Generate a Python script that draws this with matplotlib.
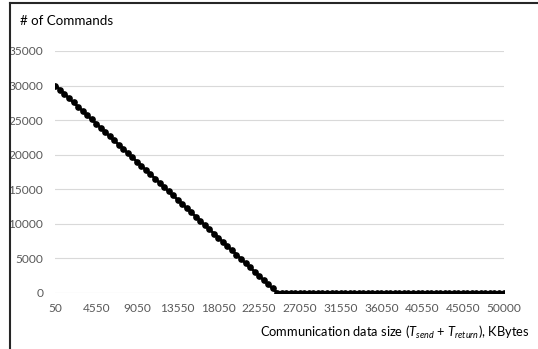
import numpy as np
import matplotlib.pyplot as plt
from matplotlib.lines import Line2D

plt.rcParams['font.family'] = ['Lato', 'DejaVu Sans']
plt.rcParams['mathtext.fontset'] = 'custom'
plt.rcParams['mathtext.rm'] = 'Lato'
plt.rcParams['mathtext.it'] = 'Lato:italic'

# data size categories, KBytes (step 500, last one 50000)
sizes = [50 + 500 * i for i in range(99)] + [50000]

# number of commands, falling part then flat at zero
commands_fall = [30000, 29388, 28776, 28163, 27551, 26939, 26327, 25714, 25102, 24490,
                 23878, 23265, 22653, 22041, 21429, 20816, 20204, 19592, 18980, 18367,
                 17755, 17143, 16531, 15918, 15306, 14694, 14082, 13469, 12857, 12245,
                 11633, 11020, 10408, 9796, 9184, 8571, 7959, 7347, 6735, 6122,
                 5510, 4898, 4286, 3673, 3061, 2449, 1837, 1224, 612, 0]
commands_flat = [0] * 50
commands = commands_fall + commands_flat

yticks = [0, 5000, 10000, 15000, 20000, 25000, 30000, 35000]

fig = plt.figure(figsize=(5.38, 3.49), dpi=100)
ax = fig.add_axes([0.1022, 0.1613, 0.8346, 0.6926])

pos = np.arange(len(sizes))
ax.plot(pos, commands, color='black', lw=2, marker='o', ms=3.8, zorder=3)

ax.set_xlim(-0.1, len(sizes) - 0.9)
ax.set_ylim(0, 35000)
ax.set_yticks(yticks)
ax.set_yticklabels([str(v) for v in yticks])
ax.set_xticks(pos[::9])
ax.set_xticklabels([str(sizes[i]) for i in pos[::9]])
ax.grid(axis='y', color='#d9d9d9', lw=0.8)
ax.set_axisbelow(True)
for s in ax.spines.values():
    s.set_visible(False)
ax.tick_params(length=0, labelsize=8.6, colors='#595959', pad=8.5)
ax.tick_params(axis='x', pad=7.5)

fig.text(0.037, 0.94, '# of Commands', fontsize=9.6, color='black', va='center', ha='left')
fig.text(0.985, 0.048, r'Communication data size ($T_{send}$ + $T_{return}$), KBytes',
         fontsize=9.3, color='black', ha='right', va='center')

# frame lines top and left
fig.add_artist(Line2D([0.019, 1.0], [0.991, 0.991], color='#262626', lw=1.5))
fig.add_artist(Line2D([0.019, 0.019], [0.0, 0.991], color='#262626', lw=1.5))

fig.savefig('out.png', dpi=100)
